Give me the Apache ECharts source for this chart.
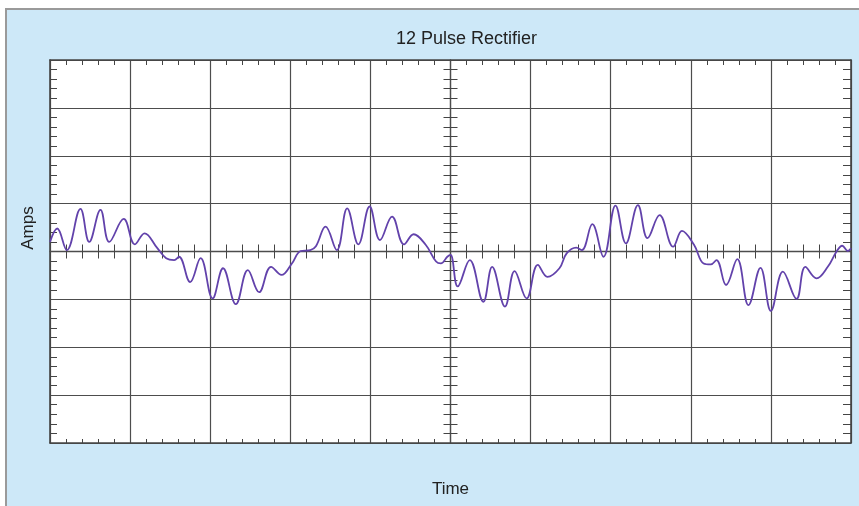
<!DOCTYPE html>
<html>
<head>
<meta charset="utf-8">
<script src="https://cdn.jsdelivr.net/npm/echarts@6/dist/echarts.min.js"></script>
<style>
  html, body { margin: 0; padding: 0; background: #ffffff; }
  #frame { position: absolute; left: 5px; top: 8px; right: 0; bottom: 0;
           background: #cde8f8; border-left: 2px solid #9a9a9a; border-top: 2px solid #9a9a9a; }
  #chart { position: absolute; left: 0; top: 0; width: 859px; height: 506px; }
</style>
</head>
<body>
<div id="frame"></div>
<div id="chart"></div>
<script>
// Time in grid divisions (centered on 0), current in grid divisions
const timeValues = [
  -5.00, -4.91, -4.79, -4.62, -4.51, -4.37, -4.26, -4.08, -3.94, -3.82,
  -3.66, -3.55, -3.45, -3.39, -3.25, -3.12, -2.97, -2.84, -2.68, -2.53,
  -2.39, -2.24, -2.11, -1.98, -1.87, -1.75, -1.68, -1.56, -1.42, -1.29,
  -1.15, -1.01, -0.88, -0.73, -0.58, -0.46, -0.31, -0.18, -0.12, -0.04,
   0.00,  0.09,  0.24,  0.41,  0.52,  0.68,  0.80,  0.95,  1.09,  1.21,
   1.36,  1.45,  1.57,  1.64,  1.77,  1.91,  2.06,  2.19,  2.34,  2.46,
   2.61,  2.78,  2.89,  3.04,  3.16,  3.25,  3.32,  3.44,  3.58,  3.72,
   3.87,  4.00,  4.15,  4.32,  4.43,  4.57,  4.71,  4.82,  4.89,  4.96,
   5.00
];
const ampValues = [
   0.20,  0.48,  0.03,  0.89,  0.20,  0.87,  0.20,  0.68,  0.15,  0.38,
   0.07, -0.14, -0.18, -0.11, -0.64, -0.14, -0.98, -0.35, -1.10, -0.39,
  -0.85, -0.32, -0.49, -0.25,  0.01,  0.03,  0.11,  0.52,  0.03,  0.90,
   0.15,  0.94,  0.24,  0.73,  0.15,  0.36,  0.14, -0.21, -0.25, -0.11,
  -0.07, -0.73, -0.18, -1.05, -0.32, -1.15, -0.41, -0.98, -0.28, -0.53,
  -0.35, -0.04,  0.08,  0.03,  0.57, -0.11,  0.96,  0.17,  0.97,  0.28,
   0.76,  0.10,  0.43,  0.14, -0.25, -0.27, -0.18, -0.70, -0.16, -1.12,
  -0.34, -1.24, -0.42, -0.99, -0.32, -0.56, -0.32,  0.00,  0.12,  0.01,
   0.07
];
const titleText = '12 Pulse Rectifier';
const xName = 'Time';
const yName = 'Amps';
const xRange = [-5, 5];
const yRange = [-4, 4];

const FONT = 'Liberation Sans, Arial, Helvetica, sans-serif';
const gridColor = '#4d4d4d';
const edgeColor = '#444';

function xAxisDef(opts) {
  return Object.assign({
    type: 'value', min: xRange[0], max: xRange[1], interval: 1,
    axisLabel: { show: false },
    splitLine: { show: false },
    axisTick: { show: false, inside: true },
    minorSplitLine: { show: false }
  }, opts);
}
function yAxisDef(opts) {
  return Object.assign({
    type: 'value', min: yRange[0], max: yRange[1], interval: 1,
    axisLabel: { show: false },
    splitLine: { show: false },
    axisTick: { show: false, inside: true },
    minorSplitLine: { show: false }
  }, opts);
}

const chart = echarts.init(document.getElementById('chart'), null, { renderer: 'canvas' });
const option = {
  backgroundColor: 'transparent',
  animation: false,
  title: {
    text: titleText, left: 391, top: 25,
    textStyle: { fontSize: 18, fontWeight: 'normal', color: '#222', fontFamily: FONT }
  },
  grid: { left: 50, right: 8, top: 60, bottom: 63, show: true, backgroundColor: '#ffffff', borderWidth: 0 },
  graphic: [{
    type: 'text', x: 28, y: 228, rotation: Math.PI / 2,
    style: { text: yName, font: '17px ' + FONT, fill: '#222', textAlign: 'center', textVerticalAlign: 'middle' }
  }],
  xAxis: [
    xAxisDef({
      position: 'bottom',
      name: xName, nameLocation: 'middle', nameGap: 38,
      nameTextStyle: { fontSize: 17, color: '#222', fontFamily: FONT },
      axisLine: { show: true, onZero: false, lineStyle: { color: edgeColor, width: 1.6 } },
      splitLine: { show: true, lineStyle: { color: gridColor, width: 1.2 } },
      minorTick: { show: true, splitNumber: 5, length: 4, lineStyle: { color: edgeColor, width: 1 } }
    }),
    xAxisDef({
      position: 'top',
      axisLine: { show: true, onZero: false, lineStyle: { color: edgeColor, width: 1.6 } },
      minorTick: { show: true, splitNumber: 5, length: 5, lineStyle: { color: edgeColor, width: 1 } }
    }),
    xAxisDef({
      position: 'bottom',
      axisLine: { show: true, onZero: true, onZeroAxisIndex: 0, lineStyle: { color: gridColor, width: 1.3 } },
      axisTick: { show: false, inside: true },
      minorTick: { show: true, splitNumber: 5, length: 7, lineStyle: { color: edgeColor, width: 1 } }
    }),
    xAxisDef({
      position: 'bottom',
      axisLine: { show: false, onZero: true, onZeroAxisIndex: 0 },
      axisTick: { show: false, inside: false },
      minorTick: { show: true, splitNumber: 5, length: 7, lineStyle: { color: edgeColor, width: 1 } }
    })
  ],
  yAxis: [
    yAxisDef({
      position: 'left',
      axisLine: { show: true, onZero: false, lineStyle: { color: edgeColor, width: 1.6 } },
      splitLine: { show: true, lineStyle: { color: gridColor, width: 1.2 } },
      minorTick: { show: true, splitNumber: 5, length: 7, lineStyle: { color: edgeColor, width: 1 } }
    }),
    yAxisDef({
      position: 'right',
      axisLine: { show: true, onZero: false, lineStyle: { color: edgeColor, width: 1.6 } },
      minorTick: { show: true, splitNumber: 5, length: 8, lineStyle: { color: edgeColor, width: 1 } }
    }),
    yAxisDef({
      position: 'left',
      axisLine: { show: true, onZero: true, onZeroAxisIndex: 0, lineStyle: { color: gridColor, width: 1.3 } },
      axisTick: { show: false, inside: true },
      minorTick: { show: true, splitNumber: 5, length: 7, lineStyle: { color: edgeColor, width: 1 } }
    }),
    yAxisDef({
      position: 'left',
      axisLine: { show: false, onZero: true, onZeroAxisIndex: 0 },
      axisTick: { show: false, inside: false },
      minorTick: { show: true, splitNumber: 5, length: 7, lineStyle: { color: edgeColor, width: 1 } }
    })
  ],
  series: [{
    type: 'line',
    xAxisIndex: 0, yAxisIndex: 0,
    data: timeValues.map((t, i) => [t, ampValues[i]]),
    smooth: 0.4,
    showSymbol: false,
    lineStyle: { color: '#6242ab', width: 1.8 },
    z: 10
  }]
};
chart.setOption(option);
</script>
</body>
</html>
